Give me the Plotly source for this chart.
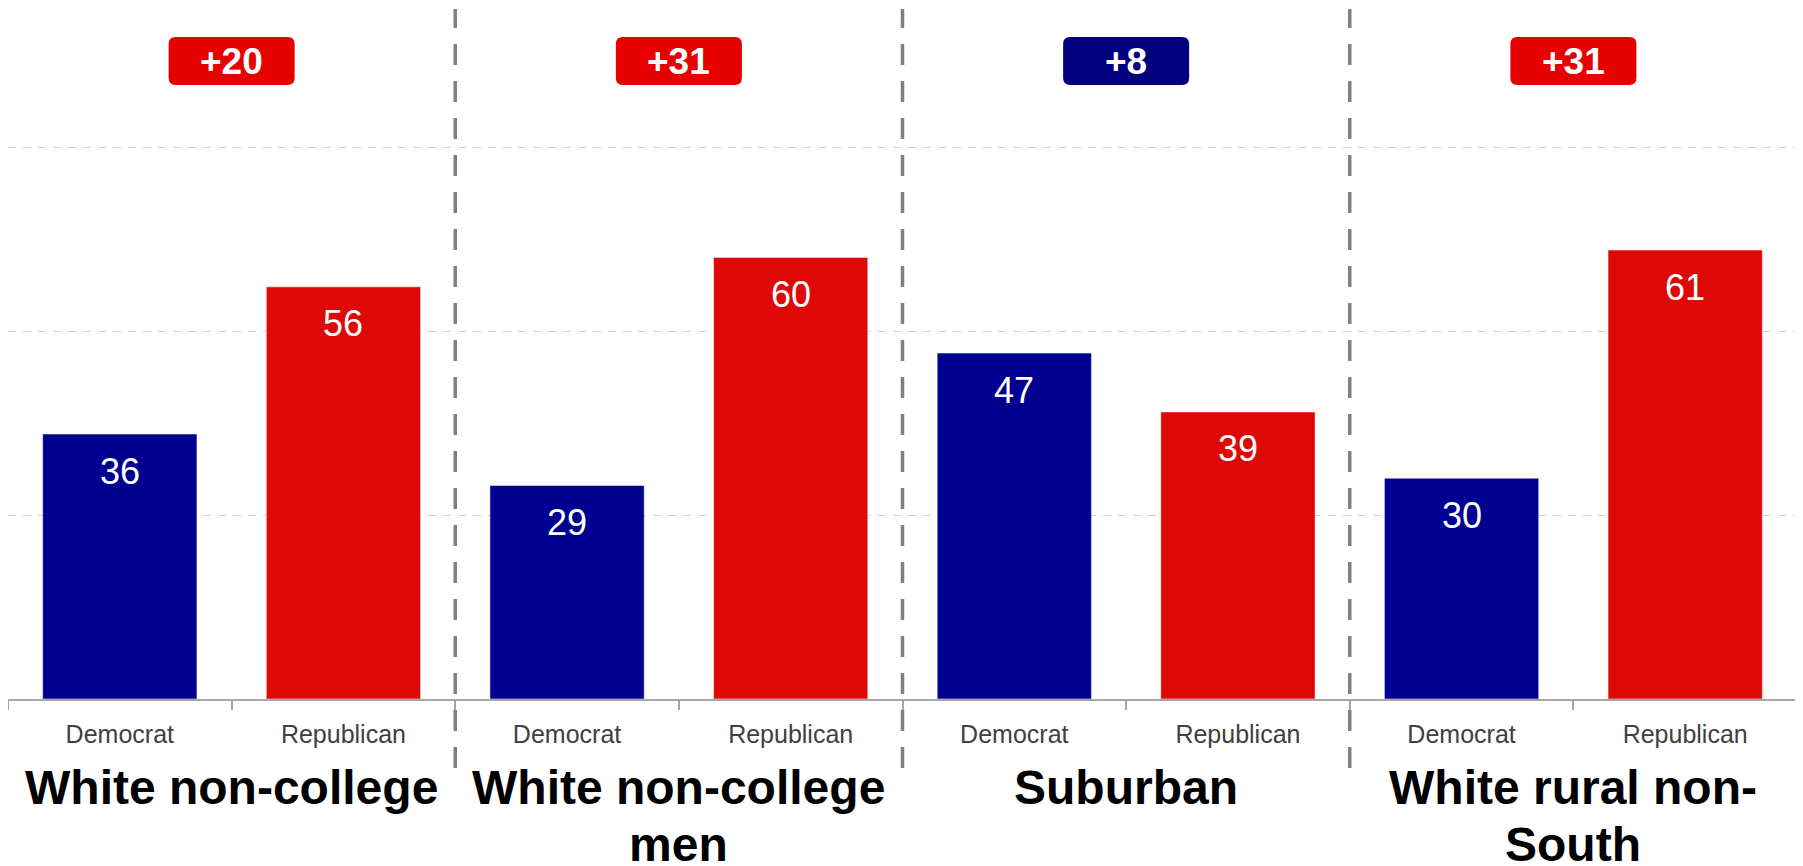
import plotly.graph_objects as go

groups = ["White non-college", "White non-college<br>men", "Suburban", "White rural non-<br>South"]
parties = ["Democrat", "Republican"]
dem = [36, 29, 47, 30]
rep = [56, 60, 39, 61]

DEM_BAR = "#000091"
REP_BAR = "#DE0906"
DEM_BOX = "#00007F"
REP_BOX = "#E60000"
FONT = "Arial, Liberation Sans, sans-serif"

# page body has an 8px margin, so the figure is sized to fit the 1803x866 window
W, H = 1795, 858
ML, MR, MT, MB = 0, 6, 1, 167
plot_h = H - MT - MB
PX_PER_UNIT = 7.36

dem_x = [2 * i for i in range(len(groups))]
rep_x = [2 * i + 1 for i in range(len(groups))]

fig = go.Figure()
fig.add_trace(go.Bar(x=dem_x, y=dem, width=0.69,
                     marker=dict(color=DEM_BAR, line=dict(width=1, color="rgba(255,255,255,0.5)")),
                     hoverinfo="y", showlegend=False))
fig.add_trace(go.Bar(x=rep_x, y=rep, width=0.69,
                     marker=dict(color=REP_BAR, line=dict(width=1, color="rgba(255,255,255,0.5)")),
                     hoverinfo="y", showlegend=False))

annotations = []
shapes = []
for xs, vals in ((dem_x, dem), (rep_x, rep)):
    for xv, v in zip(xs, vals):
        annotations.append(dict(x=xv, y=v, xref="x", yref="y", text=str(v), showarrow=False,
                                yanchor="middle", yshift=-37,
                                font=dict(family=FONT, size=36, color="white")))

# margin boxes
box_w, box_h, r = 126, 48, 7
box_y_paper = 1 - 52 / plot_h
hw, hh = box_w / 2, box_h / 2
path = (f"M {-hw + r} {hh} L {hw - r} {hh} Q {hw} {hh} {hw} {hh - r} "
        f"L {hw} {-hh + r} Q {hw} {-hh} {hw - r} {-hh} "
        f"L {-hw + r} {-hh} Q {-hw} {-hh} {-hw} {-hh + r} "
        f"L {-hw} {hh - r} Q {-hw} {hh} {-hw + r} {hh} Z")
for i, g in enumerate(groups):
    margin = rep[i] - dem[i]
    color = REP_BOX if margin > 0 else DEM_BOX
    cx = 2 * i + 0.5
    shapes.append(dict(type="path", path=path, xref="x", yref="paper",
                       xsizemode="pixel", ysizemode="pixel", xanchor=cx, yanchor=box_y_paper,
                       fillcolor=color, line=dict(width=0), layer="above"))
    annotations.append(dict(x=cx, y=box_y_paper, xref="x", yref="paper", text=f"<b>+{abs(margin)}</b>",
                            showarrow=False, yanchor="middle", xanchor="center",
                            font=dict(family=FONT, size=37, color="white")))
    for j, line in enumerate(g.split("<br>")):
        annotations.append(dict(x=cx, y=0, xref="x", yref="paper", text=f"<b>{line}</b>", showarrow=False,
                                yanchor="top", xanchor="center", yshift=-60 - 57 * j,
                                font=dict(family=FONT, size=48, color="black")))

# dashed separators
for i in range(1, len(groups)):
    xv = 2 * i - 0.5
    shapes.append(dict(type="line", xref="x", yref="paper", x0=xv, x1=xv,
                       y0=-69 / plot_h, y1=1.0,
                       line=dict(color="#808080", width=3.5, dash="21px,16px"), layer="above"))

fig.update_layout(
    width=W, height=H,
    margin=dict(l=ML, r=MR, t=MT, b=MB),
    plot_bgcolor="white", paper_bgcolor="white",
    barmode="overlay",
    annotations=annotations, shapes=shapes,
    xaxis=dict(range=[-0.5, 7.5], tickmode="array", tickvals=dem_x + rep_x,
               ticktext=[parties[0]] * len(dem_x) + [parties[1]] * len(rep_x),
               ticks="", showgrid=False, zeroline=False, ticklabelstandoff=12,
               showline=True, linecolor="#a6a6a6", linewidth=2,
               tickfont=dict(family=FONT, size=25, color="#404040"),
               minor=dict(tickmode="array", tickvals=[k - 0.5 for k in range(9)], ticks="outside",
                          ticklen=9, tickwidth=2, tickcolor="#a6a6a6", showgrid=False),
               fixedrange=True),
    yaxis=dict(range=[0, plot_h / PX_PER_UNIT], tickmode="array", tickvals=[25, 50, 75],
               showticklabels=False, ticks="", showgrid=True, gridcolor="#d0d0d0",
               griddash="8px,7px", gridwidth=1, zeroline=False, showline=False, fixedrange=True),
    font=dict(family=FONT),
)

fig.write_html("out.html")
